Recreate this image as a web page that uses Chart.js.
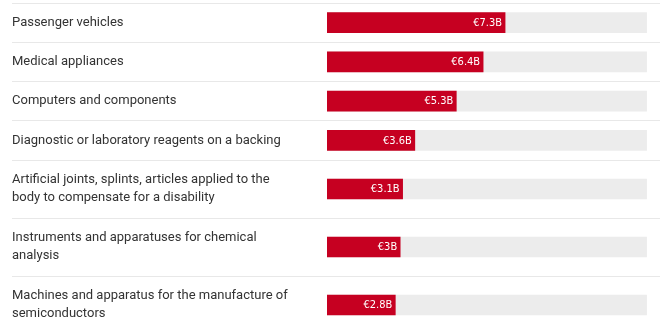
<!DOCTYPE html>
<html>
<head>
<meta charset="utf-8">
<script src="https://cdn.jsdelivr.net/npm/chart.js@4"></script>
<style>
  html, body { margin: 0; padding: 0; background: #fff; overflow: hidden; }
  #wrap { position: relative; width: 660px; height: 330px; overflow: hidden; }
  .box { position: absolute; left: 0; width: 660px; }
  #boxTop { top: 0; height: 162px; }
  #boxBottom { top: 160px; height: 176px; }
</style>
</head>
<body>
<div id="wrap">
  <div class="box" id="boxTop"><canvas id="chartTop"></canvas></div>
  <div class="box" id="boxBottom"><canvas id="chartBottom"></canvas></div>
</div>
<script>
// product groups (wrapped the same way they are shown)
const categories = [
    ['Passenger vehicles'],
    ['Medical appliances'],
    ['Computers and components'],
    ['Diagnostic or laboratory reagents on a backing'],
    ['Artificial joints, splints, articles applied to the', 'body to compensate for a disability'],
    ['Instruments and apparatuses for chemical', 'analysis'],
    ['Machines and apparatus for the manufacture of', 'semiconductors']
];
// values in billion euro
const values = [7.3, 6.4, 5.3, 3.6, 3.1, 3, 2.8];
// grey track = full scale of the bars
const trackMax = 13.1;

const RED = '#c60021';
const TRACK = '#ececec';
const LINE = '#e8e8e8';

// white "€x.xB" text at the end of every red bar
const valueLabels = {
    id: 'valueLabels',
    afterDatasetsDraw(chart) {
        const ctx = chart.ctx;
        const meta = chart.getDatasetMeta(0);
        const data = chart.data.datasets[0].data;
        ctx.save();
        ctx.font = '11px "Liberation Sans Narrow", "DejaVu Sans Condensed", sans-serif';
        ctx.fillStyle = '#fff';
        ctx.textAlign = 'right';
        ctx.textBaseline = 'middle';
        meta.data.forEach((bar, i) => {
            ctx.fillText('€' + data[i] + 'B', bar.x - 3, bar.y + 0.5);
        });
        ctx.restore();
    }
};

function makeChart(id, from, to, padTop, hideFirstLine) {
    const labels = categories.slice(from, to);
    const vals = values.slice(from, to);
    return new Chart(document.getElementById(id), {
        type: 'bar',
        data: {
            labels: labels,
            datasets: [
                // first dataset is painted last, so red sits above the track
                { data: vals, backgroundColor: RED, barThickness: 20, grouped: false },
                { data: vals.map(() => trackMax), backgroundColor: TRACK, barThickness: 20, grouped: false }
            ]
        },
        options: {
            indexAxis: 'y',
            responsive: true,
            maintainAspectRatio: false,
            animation: false,
            layout: { padding: { left: 12, top: padTop, bottom: 2, right: 0 } },
            plugins: { legend: { display: false }, tooltip: { enabled: false } },
            scales: {
                x: { display: false, min: 0, max: 13.65 },
                y: {
                    border: { display: false },
                    grid: {
                        offset: true,
                        tickLength: 315,
                        lineWidth: 1,
                        color: (c) => (hideFirstLine && c.index === 0) ? 'rgba(0,0,0,0)' : LINE
                    },
                    ticks: {
                        crossAlign: 'far',
                        color: '#333',
                        font: { family: 'Roboto, sans-serif', size: 13, lineHeight: 1.4 }
                    },
                    // fixed label column, and no extra room for the multi-line labels
                    afterFit: (scale) => {
                        scale.width = 315;
                        scale.paddingTop = 0;
                        scale.paddingBottom = 0;
                    }
                }
            }
        },
        plugins: [valueLabels]
    });
}

makeChart('chartTop', 0, 4, 3, false);
makeChart('chartBottom', 4, 7, 0, true);
</script>
</body>
</html>
